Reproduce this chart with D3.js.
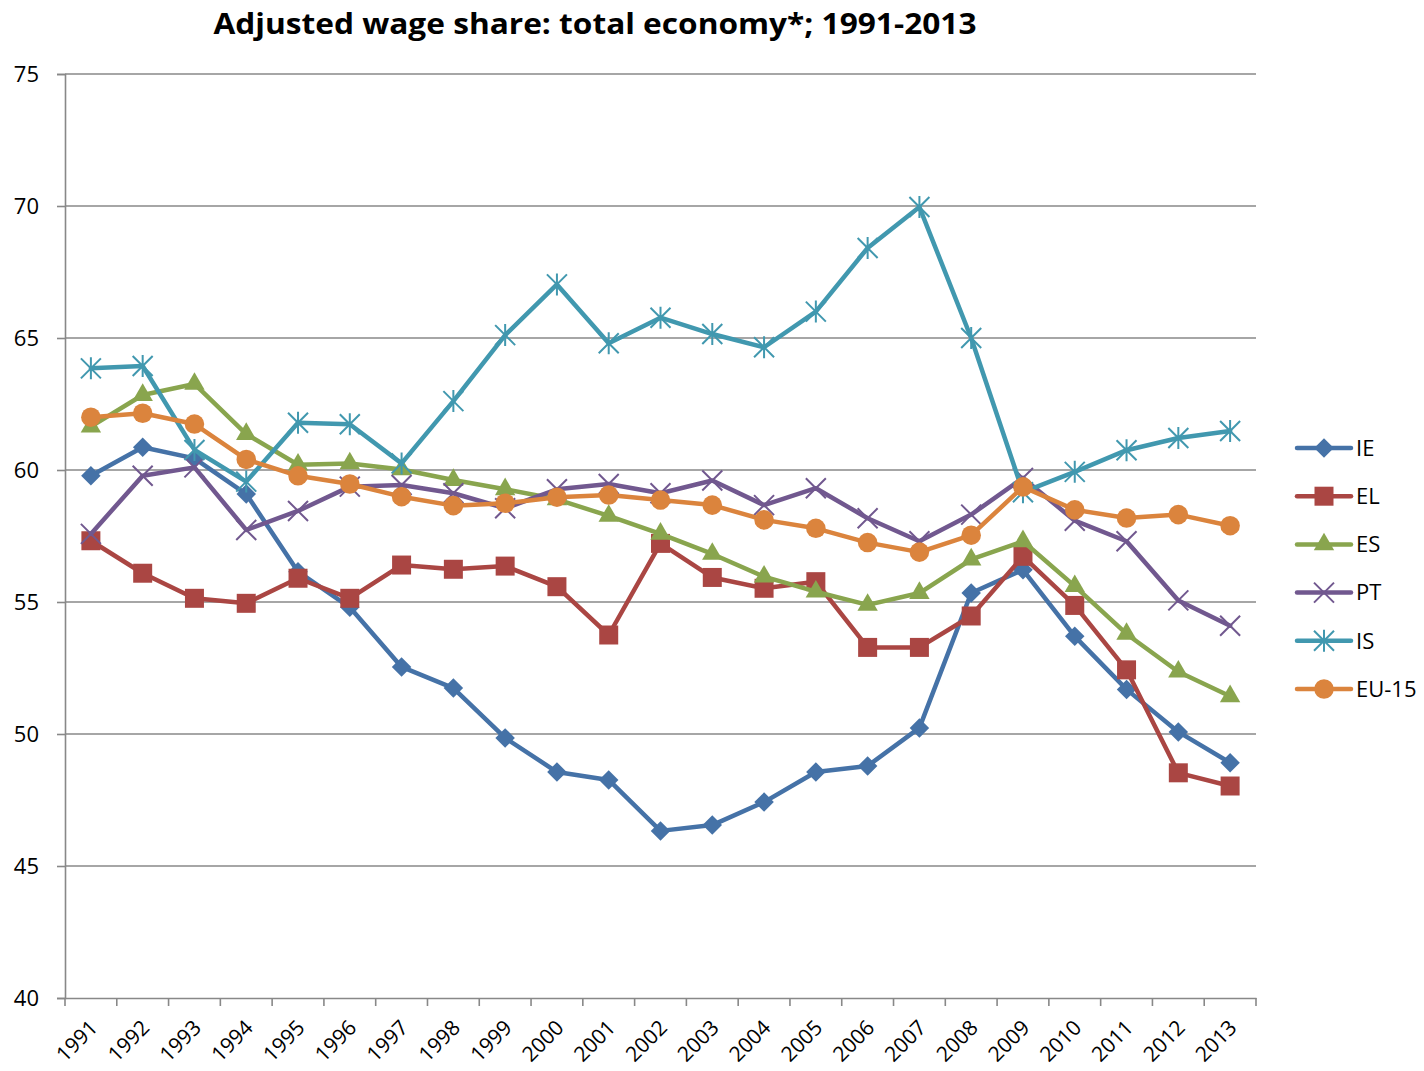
<!DOCTYPE html>
<html>
<head>
<meta charset="utf-8">
<script src="https://cdn.jsdelivr.net/npm/d3@7"></script>
<style>
  body { margin: 0; background: #fff; }
  text { font-family: "Open Sans", Lato, sans-serif; fill: #000; }
</style>
</head>
<body>
<script>
var width = 1424;
var height = 1071;

var years = ["1991", "1992", "1993", "1994", "1995", "1996", "1997", "1998", "1999", "2000", "2001", "2002",
    "2003", "2004", "2005", "2006", "2007", "2008", "2009", "2010", "2011", "2012", "2013"];

var ieValues = [59.78, 60.86, 60.44, 59.09, 56.15, 54.8, 52.54, 51.74, 49.85, 48.56, 48.26, 46.33,
    46.55, 47.42, 48.56, 48.79, 50.23, 55.34, 56.22, 53.7, 51.69, 50.08, 48.91];
var elValues = [57.32, 56.09, 55.14, 54.95, 55.9, 55.14, 56.4, 56.24, 56.36, 55.58, 53.75, 57.22,
    55.93, 55.52, 55.77, 53.28, 53.28, 54.47, 56.73, 54.87, 52.43, 48.53, 48.03];
var esValues = [61.64, 62.84, 63.26, 61.36, 60.2, 60.25, 60.02, 59.62, 59.27, 58.89, 58.26, 57.58,
    56.82, 55.96, 55.39, 54.89, 55.34, 56.61, 57.3, 55.6, 53.79, 52.36, 51.43];
var ptValues = [57.58, 59.78, 60.1, 57.73, 58.45, 59.37, 59.43, 59.12, 58.55, 59.27, 59.47, 59.12,
    59.6, 58.67, 59.31, 58.17, 57.3, 58.31, 59.7, 58.08, 57.3, 55.06, 54.1];
var isValues = [63.85, 63.94, 60.76, 59.56, 61.79, 61.73, 60.25, 62.61, 65.11, 67.03, 64.8, 65.77,
    65.15, 64.65, 66.0, 68.41, 69.96, 65.0, 59.16, 59.93, 60.75, 61.21, 61.48];
var eu15Values = [62.0, 62.15, 61.74, 60.4, 59.78, 59.47, 58.99, 58.65, 58.74, 58.97, 59.05, 58.86,
    58.67, 58.11, 57.79, 57.25, 56.89, 57.53, 59.36, 58.49, 58.18, 58.31, 57.89];

var yTicks = [40, 45, 50, 55, 60, 65, 70, 75];

var series = [
    { name: "IE", values: ieValues, color: "#4572A7", marker: "diamond" },
    { name: "EL", values: elValues, color: "#AA4643", marker: "square" },
    { name: "ES", values: esValues, color: "#89A54E", marker: "triangle" },
    { name: "PT", values: ptValues, color: "#71588F", marker: "x" },
    { name: "IS", values: isValues, color: "#4198AF", marker: "star" },
    { name: "EU-15", values: eu15Values, color: "#DB843D", marker: "circle" }
];

var plot = { left: 65, right: 1256, top: 74, bottom: 998 };

var svg = d3.select("body")
    .append("svg")
    .attr("width", width)
    .attr("height", height);

var x = d3.scaleBand()
    .domain(years)
    .range([plot.left, plot.right]);

var y = d3.scaleLinear()
    .domain([40, 75])
    .range([plot.bottom, plot.top]);

function cx(year) {
    return x(year) + x.bandwidth() / 2;
}

var gridColor = "#888888";

// title
svg.append("text")
    .attr("x", 595)
    .attr("y", 34)
    .attr("text-anchor", "middle")
    .attr("textLength", 763)
    .attr("lengthAdjust", "spacingAndGlyphs")
    .style("font-size", "28px")
    .style("font-weight", "bold")
    .text("Adjusted wage share: total economy*; 1991-2013");

// gridlines
svg.append("g")
    .selectAll("line")
    .data(yTicks.filter(function(d) { return d > 40; }))
    .enter().append("line")
    .attr("x1", plot.left)
    .attr("x2", plot.right)
    .attr("y1", function(d) { return y(d); })
    .attr("y2", function(d) { return y(d); })
    .attr("stroke", gridColor)
    .attr("stroke-width", 1.6);

// y axis
var yAxis = svg.append("g")
    .attr("transform", "translate(" + plot.left + ",0)")
    .call(d3.axisLeft(y).tickValues(yTicks).tickSize(8).tickPadding(18));
yAxis.select(".domain").attr("stroke", gridColor).attr("stroke-width", 1.6);
yAxis.selectAll(".tick line").attr("stroke", gridColor).attr("stroke-width", 1.6);
yAxis.selectAll(".tick text")
    .style("font-size", "22px")
    .style("font-family", "'Open Sans', sans-serif");

// x axis
var xAxis = svg.append("g")
    .attr("transform", "translate(0," + plot.bottom + ")")
    .call(d3.axisBottom(x).tickSize(0));
xAxis.select(".domain").attr("stroke", gridColor).attr("stroke-width", 1.6);
xAxis.selectAll(".tick text")
    .style("font-size", "21px")
    .style("font-family", "'Open Sans', sans-serif")
    .attr("text-anchor", "end")
    .attr("dy", null)
    .attr("y", null)
    .attr("transform", "translate(8,31) rotate(-45)");

// tick marks on band boundaries
var bounds = years.map(function(d) { return x(d); }).concat([plot.right]);
svg.append("g")
    .selectAll("line")
    .data(bounds)
    .enter().append("line")
    .attr("x1", function(d) { return d; })
    .attr("x2", function(d) { return d; })
    .attr("y1", plot.bottom)
    .attr("y2", plot.bottom + 8)
    .attr("stroke", gridColor)
    .attr("stroke-width", 1.6);

function drawMarker(g, type, color) {
    if (type === "diamond") {
        g.append("path")
            .attr("d", d3.symbol().type(d3.symbolSquare).size(190)())
            .attr("transform", "rotate(45)")
            .attr("fill", color);
    } else if (type === "square") {
        g.append("path")
            .attr("d", d3.symbol().type(d3.symbolSquare).size(361)())
            .attr("fill", color);
    } else if (type === "triangle") {
        g.append("path")
            .attr("d", d3.symbol().type(d3.symbolTriangle).size(180)())
            .attr("fill", color);
    } else if (type === "circle") {
        g.append("path")
            .attr("d", d3.symbol().type(d3.symbolCircle).size(300)())
            .attr("fill", color);
    } else if (type === "x") {
        g.append("path")
            .attr("d", "M-10,-10L10,10M-10,10L10,-10")
            .attr("stroke", color)
            .attr("stroke-width", 2)
            .attr("fill", "none");
    } else if (type === "star") {
        g.append("path")
            .attr("d", "M-10,-10L10,10M-10,10L10,-10M0,-11L0,11")
            .attr("stroke", color)
            .attr("stroke-width", 2)
            .attr("fill", "none");
    }
}

var line = d3.line()
    .x(function(d) { return cx(d.year); })
    .y(function(d) { return y(d.value); });

series.forEach(function(s) {
    var pts = years.map(function(yr, i) { return { year: yr, value: s.values[i] }; });
    var g = svg.append("g").attr("class", "series");
    g.append("path")
        .datum(pts)
        .attr("d", line)
        .attr("fill", "none")
        .attr("stroke", s.color)
        .attr("stroke-width", 4.5)
        .attr("stroke-linejoin", "round")
        .attr("stroke-linecap", "round");
    g.selectAll("g.marker")
        .data(pts)
        .enter().append("g")
        .attr("class", "marker")
        .attr("transform", function(d) { return "translate(" + cx(d.year) + "," + y(d.value) + ")"; })
        .each(function() { drawMarker(d3.select(this), s.marker, s.color); });
});

// legend
var legend = svg.append("g")
    .selectAll("g")
    .data(series)
    .enter().append("g")
    .attr("transform", function(d, i) { return "translate(1297," + (448 + i * 48.2) + ")"; });

legend.append("line")
    .attr("x1", 0)
    .attr("x2", 54)
    .attr("stroke", function(d) { return d.color; })
    .attr("stroke-width", 4.5)
    .attr("stroke-linecap", "round");

legend.append("g")
    .attr("transform", "translate(27,0)")
    .each(function(d) { drawMarker(d3.select(this), d.marker, d.color); });

legend.append("text")
    .attr("x", 59)
    .attr("dy", "0.35em")
    .style("font-size", "22px")
    .text(function(d) { return d.name; });
</script>
</body>
</html>
